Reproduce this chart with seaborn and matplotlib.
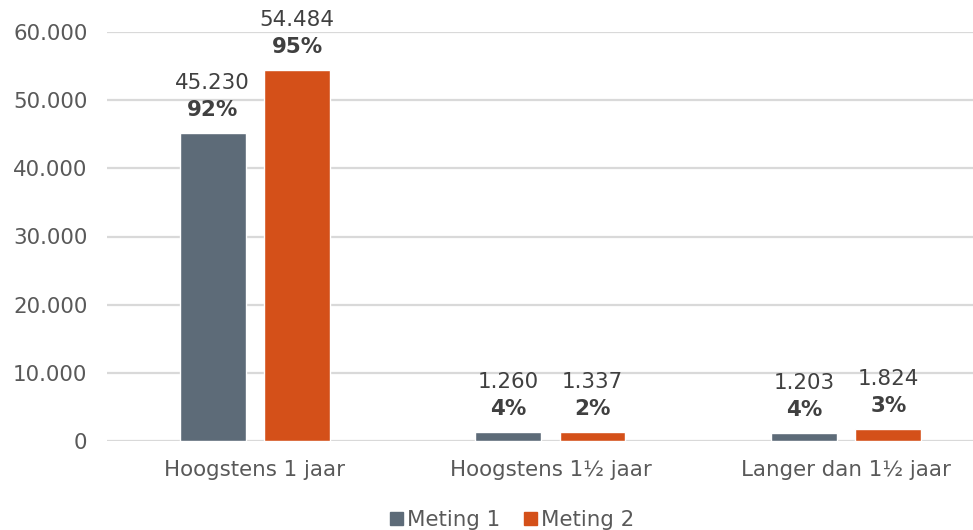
import numpy as np
import pandas as pd
import seaborn as sns
from matplotlib import pyplot as plt
from matplotlib.patches import Patch

'''

Data

'''
categories = ['Hoogstens 1 jaar', 'Hoogstens 1½ jaar', 'Langer dan 1½ jaar']
series = ['Meting 1', 'Meting 2']
meting_1 = [45230, 1260, 1203]
meting_2 = [54484, 1337, 1824]
pct_1 = [92, 4, 4]
pct_2 = [95, 2, 3]
y_ticks = [0, 10000, 20000, 30000, 40000, 50000, 60000]

colors = ['#5D6B78', '#D45019']

df = pd.DataFrame({
    'Categorie': categories * 2,
    'Aantal': meting_1 + meting_2,
    'Pct': pct_1 + pct_2,
    'Meting': [series[0]] * 3 + [series[1]] * 3,
})

def nl(v):
    return f'{v:,.0f}'.replace(',', '.')

'''

Plot

'''
sns.set_style('white')
plt.rcParams['font.family'] = ['DejaVu Sans']
fs = 15.4

fig = plt.figure(figsize=(9.73, 5.30), dpi=100)
ax = fig.add_axes([107 / 973, 1 - 441 / 530, 1 - 107 / 973, (441 - 32) / 530])

sns.barplot(data=df, x='Categorie', y='Aantal', hue='Meting', hue_order=series,
            palette=colors, width=0.57, gap=0.22, saturation=1, ax=ax, legend=False)

ax.set_xlim(-0.5, 2.5 - 21 / 296)
ax.set_ylim(0, 60000)
ax.set_yticks(y_ticks)
ax.set_yticklabels([nl(t) for t in y_ticks])
ax.set_xlabel('')
ax.set_ylabel('')
ax.grid(axis='y', color='#D9D9D9', linewidth=1.6)
ax.set_axisbelow(True)
for s in ax.spines.values():
    s.set_visible(False)
ax.tick_params(axis='both', length=0, labelsize=fs, colors='#595959')
ax.tick_params(axis='y', pad=14)
ax.tick_params(axis='x', pad=14)

# labels above the bars
pcts = [pct_1, pct_2]
for k, cont in enumerate(ax.containers):
    for i, bar in enumerate(cont):
        x = bar.get_x() + bar.get_width() / 2
        h = bar.get_height()
        ax.annotate(nl(h), (x, h), xytext=(0, 50), textcoords='offset pixels',
                    ha='center', va='center', fontsize=fs, color='#404040',
                    annotation_clip=False)
        ax.annotate(f'{pcts[k][i]}%', (x, h), xytext=(0, 23), textcoords='offset pixels',
                    ha='center', va='center', fontsize=fs, fontweight='bold',
                    color='#404040', annotation_clip=False)

handles = [Patch(color=c, label=s) for c, s in zip(colors, series)]
fig.legend(handles=handles, loc='center', bbox_to_anchor=(512 / 973, 1 - 520 / 530),
           ncol=2, frameon=False, fontsize=fs, handlelength=0.6, handleheight=0.6,
           handletextpad=0.2, columnspacing=1.1, labelcolor='#595959')

plt.savefig('out.png', dpi=100)
plt.close()
